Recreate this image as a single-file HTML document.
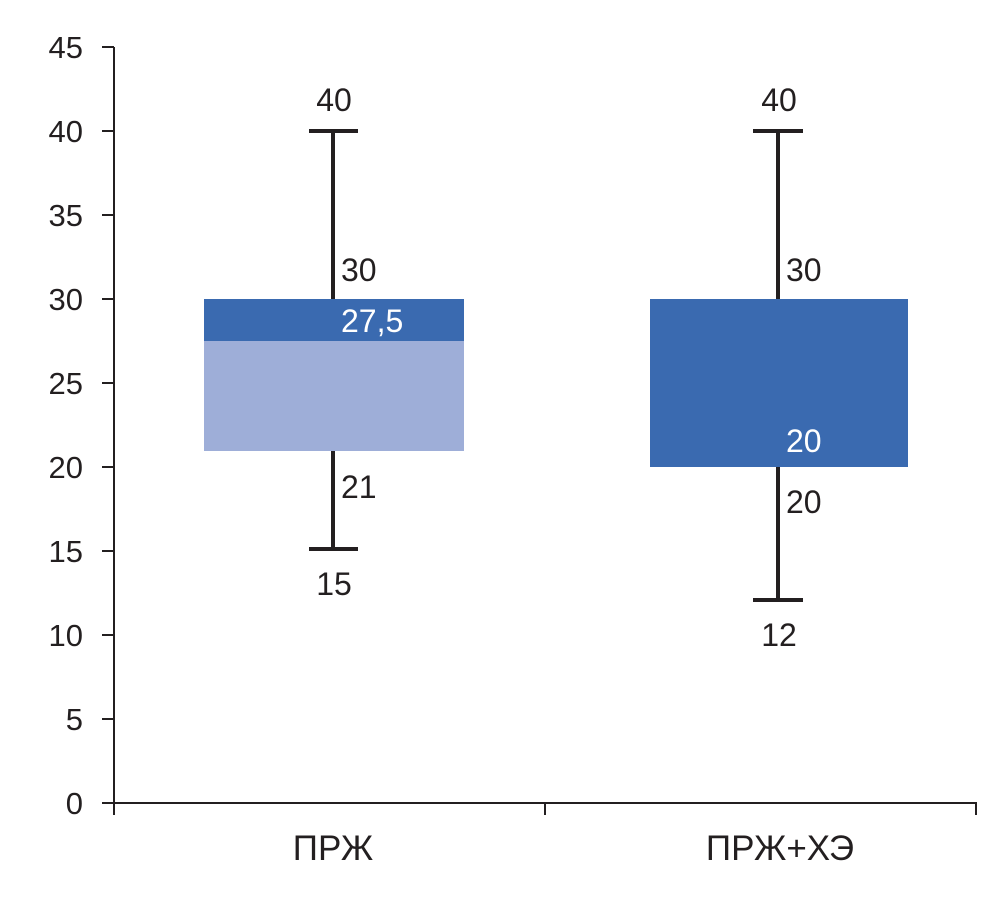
<!DOCTYPE html>
<html><head><meta charset="utf-8"><style>
body{margin:0;background:#fff;}
svg text{font-family:"Liberation Sans",sans-serif;fill:#231f20;}
</style></head><body>
<svg width="1006" height="897" viewBox="0 0 1006 897" xmlns="http://www.w3.org/2000/svg">
<g stroke="#231f20" stroke-width="2" fill="none">
<line x1="114" y1="47" x2="114" y2="815"/>
<line x1="113" y1="803" x2="976" y2="803"/>
<line x1="545" y1="803" x2="545" y2="815"/>
<line x1="976" y1="802" x2="976" y2="815"/>
<line x1="102" y1="47" x2="114" y2="47"/>
<line x1="102" y1="131" x2="114" y2="131"/>
<line x1="102" y1="215" x2="114" y2="215"/>
<line x1="102" y1="299" x2="114" y2="299"/>
<line x1="102" y1="383" x2="114" y2="383"/>
<line x1="102" y1="467" x2="114" y2="467"/>
<line x1="102" y1="551" x2="114" y2="551"/>
<line x1="102" y1="635" x2="114" y2="635"/>
<line x1="102" y1="719" x2="114" y2="719"/>
<line x1="102" y1="803" x2="114" y2="803"/>
</g>
<g font-size="31" text-anchor="end">
<text x="83" y="58">45</text><text x="83" y="142">40</text><text x="83" y="226">35</text>
<text x="83" y="310">30</text><text x="83" y="394">25</text><text x="83" y="478">20</text>
<text x="83" y="562">15</text><text x="83" y="646">10</text><text x="83" y="730">5</text>
<text x="83" y="814">0</text>
</g>
<rect x="204" y="341" width="260" height="110" fill="#9eaed8"/>
<rect x="204" y="299" width="260" height="42" fill="#3a6ab0"/>
<g stroke="#231f20" stroke-width="4">
<line x1="333" y1="131" x2="333" y2="299"/>
<line x1="309" y1="131" x2="358" y2="131"/>
<line x1="333" y1="451" x2="333" y2="549"/>
<line x1="309" y1="549" x2="358" y2="549"/>
</g>
<rect x="650" y="299" width="258" height="168" fill="#3a6ab0"/>
<g stroke="#231f20" stroke-width="4">
<line x1="778" y1="131" x2="778" y2="299"/>
<line x1="753" y1="131" x2="803" y2="131"/>
<line x1="778" y1="467" x2="778" y2="600"/>
<line x1="753" y1="600" x2="803" y2="600"/>
</g>
<g font-size="32">
<text x="334" y="111" text-anchor="middle">40</text>
<text x="341" y="281">30</text>
<text x="341" y="332" style="fill:#fff">27,5</text>
<text x="341" y="498">21</text>
<text x="334" y="595" text-anchor="middle">15</text>
<text x="779" y="111" text-anchor="middle">40</text>
<text x="786" y="281">30</text>
<text x="786" y="452" style="fill:#fff">20</text>
<text x="786" y="513">20</text>
<text x="779" y="646" text-anchor="middle">12</text>
</g>
<g font-size="35">
<text x="333" y="860" text-anchor="middle">ПРЖ</text>
<text x="780" y="860" text-anchor="middle">ПРЖ+ХЭ</text>
</g>
</svg>
</body></html>
